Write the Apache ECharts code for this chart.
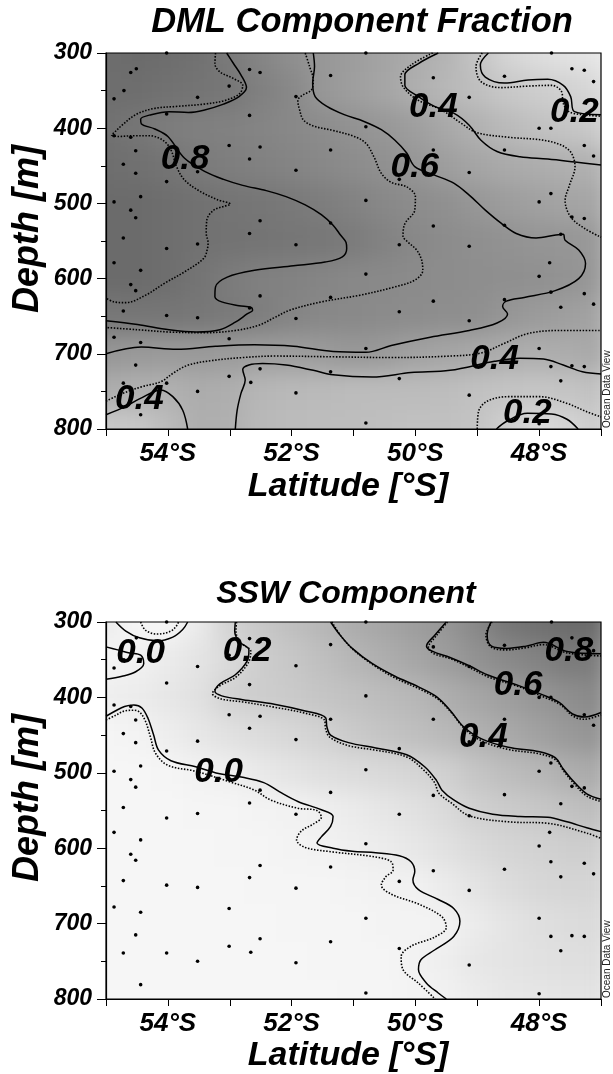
<!DOCTYPE html>
<html>
<head>
<meta charset="utf-8">
<title>DML and SSW component fractions</title>
<script src="https://cdn.jsdelivr.net/npm/echarts@6/dist/echarts.min.js"></script>
<style>
  html, body { margin: 0; padding: 0; background: #ffffff; }
  #stage { position: relative; width: 613px; height: 1074px; overflow: hidden; }
  .clip { position: absolute; overflow: hidden; }
  .field { position: absolute; width: 613px; height: 1074px; filter: blur(11px); }
  #chart { position: absolute; left: 0; top: 0; width: 613px; height: 1074px; }
</style>
</head>
<body>
<div id="stage"><div id="chart"></div></div>
<script>
// ---- gridded section values (rows: depth nodes, columns: latitude nodes, °S) ----
const latNodes = [55, 54.5, 54, 53.5, 53, 52.5, 52, 51.5, 51, 50.5, 50, 49.5, 49, 48.5, 48, 47.5, 47];
const depthNodes = [300, 350, 400, 450, 500, 550, 600, 650, 700, 750, 800];

const dmlField = [
  [0.88, 0.90, 0.89, 0.86, 0.80, 0.72, 0.65, 0.59, 0.55, 0.50, 0.44, 0.38, 0.28, 0.17, 0.12, 0.09, 0.07],
  [0.88, 0.88, 0.86, 0.84, 0.82, 0.76, 0.70, 0.59, 0.54, 0.49, 0.42, 0.36, 0.31, 0.25, 0.22, 0.19, 0.15],
  [0.86, 0.83, 0.78, 0.76, 0.75, 0.73, 0.70, 0.67, 0.63, 0.59, 0.54, 0.47, 0.40, 0.34, 0.30, 0.27, 0.23],
  [0.88, 0.87, 0.84, 0.80, 0.77, 0.75, 0.73, 0.70, 0.67, 0.64, 0.60, 0.54, 0.49, 0.45, 0.43, 0.41, 0.40],
  [0.90, 0.90, 0.88, 0.86, 0.84, 0.83, 0.81, 0.78, 0.74, 0.70, 0.67, 0.64, 0.59, 0.55, 0.52, 0.50, 0.48],
  [0.90, 0.90, 0.88, 0.86, 0.85, 0.84, 0.83, 0.82, 0.79, 0.74, 0.70, 0.67, 0.65, 0.63, 0.61, 0.60, 0.57],
  [0.90, 0.90, 0.88, 0.84, 0.79, 0.76, 0.74, 0.72, 0.70, 0.69, 0.68, 0.67, 0.66, 0.65, 0.64, 0.62, 0.58],
  [0.82, 0.83, 0.83, 0.82, 0.80, 0.77, 0.73, 0.70, 0.69, 0.68, 0.67, 0.66, 0.65, 0.60, 0.56, 0.53, 0.50],
  [0.60, 0.58, 0.57, 0.57, 0.56, 0.55, 0.55, 0.56, 0.59, 0.57, 0.52, 0.49, 0.46, 0.43, 0.42, 0.44, 0.47],
  [0.43, 0.41, 0.40, 0.44, 0.42, 0.37, 0.35, 0.34, 0.33, 0.33, 0.33, 0.32, 0.30, 0.28, 0.27, 0.28, 0.30],
  [0.24, 0.25, 0.33, 0.42, 0.41, 0.35, 0.33, 0.32, 0.32, 0.31, 0.30, 0.30, 0.28, 0.20, 0.13, 0.17, 0.24]
];

const sswField = [
  [0.03, -0.04, -0.04, 0.04, 0.18, 0.25, 0.31, 0.37, 0.44, 0.49, 0.55, 0.60, 0.70, 0.83, 0.87, 0.90, 0.90],
  [-0.03, 0.00, 0.04, 0.08, 0.14, 0.22, 0.26, 0.31, 0.37, 0.42, 0.48, 0.55, 0.63, 0.69, 0.74, 0.80, 0.78],
  [0.02, 0.03, 0.06, 0.10, 0.19, 0.22, 0.24, 0.27, 0.30, 0.33, 0.36, 0.42, 0.48, 0.54, 0.60, 0.66, 0.70],
  [-0.03, -0.02, 0.02, 0.06, 0.10, 0.13, 0.16, 0.19, 0.24, 0.28, 0.31, 0.35, 0.40, 0.46, 0.52, 0.58, 0.62],
  [-0.04, -0.04, -0.03, -0.01, 0.01, 0.05, 0.08, 0.11, 0.13, 0.15, 0.17, 0.20, 0.27, 0.32, 0.36, 0.42, 0.46],
  [-0.04, -0.04, -0.04, -0.03, -0.03, -0.02, -0.01, 0.01, 0.04, 0.07, 0.10, 0.14, 0.20, 0.23, 0.26, 0.30, 0.33],
  [-0.04, -0.04, -0.04, -0.04, -0.03, -0.03, -0.02, -0.01, 0.01, 0.03, 0.06, 0.10, 0.14, 0.17, 0.19, 0.21, 0.21],
  [-0.04, -0.04, -0.04, -0.04, -0.04, -0.03, -0.03, -0.03, -0.02, -0.01, 0.00, 0.04, 0.09, 0.13, 0.16, 0.17, 0.17],
  [-0.04, -0.04, -0.04, -0.04, -0.04, -0.04, -0.03, -0.03, -0.03, -0.02, -0.02, -0.01, 0.04, 0.08, 0.11, 0.13, 0.14],
  [-0.04, -0.04, -0.04, -0.04, -0.04, -0.04, -0.04, -0.03, -0.03, -0.03, -0.01, 0.02, 0.06, 0.08, 0.10, 0.11, 0.12],
  [-0.04, -0.04, -0.04, -0.04, -0.04, -0.04, -0.04, -0.04, -0.03, -0.03, -0.02, 0.00, 0.03, 0.06, 0.07, 0.08, 0.09]
];

// ---- sample positions [°S, m] ----
const stations = [
  [54.02, 300], [54.60, 326], [54.51, 321], [54.71, 350], [54.87, 361], [53.52, 359], [52.68, 322], [52.51, 326],
  [53.01, 344], [51.93, 358], [51.37, 330], [50.80, 300], [54.02, 381], [52.68, 383], [50.80, 398], [49.71, 333],
  [49.13, 359], [48.56, 331], [47.47, 321], [47.27, 323], [47.12, 338], [47.80, 300], [48.00, 400], [47.81, 400],
  [47.27, 423], [47.12, 437], [48.56, 429], [49.71, 429], [49.13, 459], [51.37, 429], [52.51, 425], [53.01, 423],
  [52.68, 441], [51.93, 456], [54.52, 430], [54.72, 448], [54.52, 460], [54.02, 471], [54.44, 491], [54.87, 498],
  [54.60, 509], [54.52, 519], [52.51, 523], [51.37, 526], [50.80, 496], [49.71, 530], [48.56, 529], [48.00, 498],
  [47.81, 487], [47.47, 518], [47.27, 520], [54.87, 410], [54.60, 412], [53.52, 458], [50.26, 468],
  [54.72, 546], [54.02, 560], [53.52, 554], [52.68, 540], [51.93, 555], [54.87, 579], [54.44, 589], [54.60, 608],
  [54.52, 616], [50.80, 594], [50.26, 555], [49.13, 557], [47.83, 579], [48.00, 597], [52.51, 623], [51.37, 625],
  [49.71, 630], [48.56, 628], [47.27, 620], [47.12, 634], [47.65, 638], [54.72, 643], [54.02, 649], [53.52, 652],
  [52.68, 639], [51.93, 653], [50.26, 644], [49.13, 656], [54.87, 678], [54.44, 685], [53.01, 680], [50.80, 693],
  [48.00, 693], [47.81, 717], [47.47, 716], [47.27, 717], [54.52, 715], [53.01, 730], [52.51, 720], [51.37, 724],
  [50.26, 733], [47.65, 736], [54.72, 739], [54.02, 739], [53.52, 750], [52.66, 738], [51.93, 752], [49.13, 755],
  [54.44, 781], [50.80, 792], [48.00, 793], [47.65, 541], [47.81, 618]
];

// ---- DML component fraction: isolines [°S, m] ----
const dmlSolid = [
  [[53.05, 300], [52.94, 314], [52.82, 329], [52.73, 346], [52.85, 358], [53.10, 368], [53.42, 376], [53.67, 379],
   [53.98, 378], [54.27, 382], [54.44, 388], [54.43, 394], [54.21, 401], [54.00, 411], [53.73, 440], [53.39, 458],
   [53.10, 468], [52.79, 476], [52.41, 483], [52.09, 491], [51.78, 502], [51.52, 515], [51.33, 529], [51.21, 542],
   [51.12, 552], [51.11, 560], [51.18, 571], [51.46, 578], [51.97, 583], [52.60, 589], [53.04, 598], [53.23, 611],
   [53.24, 624], [53.13, 631], [52.85, 636], [52.66, 638], [52.63, 642], [52.72, 647], [52.91, 658], [53.16, 668],
   [53.54, 671], [53.98, 668], [54.49, 661], [55.00, 656]],
  [[51.65, 300], [51.63, 318], [51.66, 340], [51.62, 358], [51.43, 371], [51.15, 382], [50.83, 391], [50.55, 402],
   [50.33, 416], [50.14, 433], [50.01, 451], [49.70, 462], [49.38, 473], [49.13, 489], [48.87, 509], [48.62, 526],
   [48.37, 540], [48.05, 546], [47.73, 542], [47.61, 541], [47.58, 549], [47.36, 562], [47.25, 580], [47.36, 600],
   [47.74, 616], [48.24, 625], [48.53, 630], [48.59, 637], [48.51, 647], [48.68, 659], [49.13, 669], [49.76, 678],
   [50.39, 689], [50.80, 698], [51.33, 697], [51.97, 690], [52.60, 688], [53.23, 690], [53.86, 694], [54.43, 691],
   [55.00, 700]],
  [[49.63, 300], [49.95, 314], [50.17, 329], [50.17, 343], [49.95, 358], [49.69, 371], [49.38, 380], [49.13, 396],
   [48.94, 416], [48.68, 431], [48.31, 438], [47.86, 441], [47.42, 445], [47.00, 449]],
  [[52.91, 800], [52.88, 775], [52.82, 753], [52.75, 735], [52.79, 721], [52.69, 715], [52.47, 713], [52.09, 715],
   [51.65, 722], [51.33, 728], [50.70, 731], [50.07, 725], [49.44, 722], [48.72, 710], [48.31, 706], [47.93, 707],
   [47.61, 715], [47.30, 724], [47.00, 727]],
  [[55.00, 781], [54.68, 770], [54.46, 760], [54.11, 748], [53.92, 757], [53.76, 775], [53.68, 800]],
  [[48.69, 800], [48.53, 790], [48.19, 779], [47.80, 780], [47.55, 787], [47.37, 800]],
  [[48.82, 300], [48.95, 316], [48.87, 332], [48.56, 340], [48.18, 336], [47.86, 335], [47.61, 343], [47.49, 358],
   [47.43, 378], [47.00, 382]]
];

const dmlDotted = [
  [[53.23, 300], [53.24, 314], [53.16, 325], [52.94, 334], [52.79, 343], [52.84, 354], [53.07, 363], [53.42, 368],
   [53.86, 371], [54.24, 374], [54.52, 382], [54.74, 396], [54.87, 406], [54.91, 409], [54.80, 411], [54.55, 410],
   [54.30, 410], [54.08, 416], [53.95, 429], [53.86, 451], [53.73, 469], [53.48, 484], [53.20, 495], [52.99, 501],
   [53.10, 504], [53.26, 509], [53.37, 522], [53.38, 540], [53.35, 552], [53.36, 560], [53.42, 573], [53.73, 591],
   [54.05, 606], [54.36, 622], [54.68, 632], [54.87, 631], [55.00, 626]],
  [[51.78, 300], [51.71, 318], [51.65, 336], [51.68, 349], [51.84, 357], [51.90, 363], [51.87, 376], [51.81, 389],
   [51.65, 397], [51.33, 403], [50.99, 411], [50.80, 420], [50.67, 438], [50.55, 460], [50.39, 472], [50.14, 478],
   [50.00, 491], [50.01, 509], [50.17, 527], [50.20, 544], [50.14, 550], [49.98, 562], [49.90, 575], [49.88, 589],
   [50.01, 602], [50.33, 611], [50.89, 622], [51.52, 631], [52.03, 642], [52.28, 652], [52.53, 662], [52.91, 669],
   [53.42, 672], [53.98, 671], [54.49, 668], [55.00, 665]],
  [[49.72, 300], [50.07, 316], [50.24, 332], [50.19, 346], [49.95, 363], [49.57, 376], [49.25, 394], [49.00, 406],
   [48.50, 412], [47.86, 417], [47.52, 429], [47.42, 451], [47.51, 476], [47.58, 496], [47.49, 518], [47.27, 533],
   [47.00, 545]],
  [[55.00, 763], [54.74, 753], [54.43, 744], [54.11, 737], [53.92, 726], [53.67, 715], [53.29, 709], [52.79, 705],
   [52.28, 703], [51.33, 704], [50.39, 705], [49.44, 703], [48.94, 699], [48.56, 686], [48.18, 673], [47.67, 669],
   [47.00, 669]],
  [[49.00, 800], [48.98, 777], [48.84, 763], [48.50, 757], [47.99, 757], [47.55, 766], [47.23, 777], [47.00, 784]],
  [[48.92, 300], [49.02, 318], [48.94, 338], [48.62, 346], [48.18, 344], [47.80, 343], [47.64, 351], [47.61, 367],
   [47.52, 378], [47.30, 382], [47.00, 384]]
];

const dmlLabels = [
  [53.72, 441, '0.8'], [50.01, 452, '0.6'], [49.71, 372, '0.4'], [47.43, 379, '0.2'],
  [48.72, 708, '0.4'], [54.46, 761, '0.4'], [48.19, 779, '0.2']
];

// ---- SSW component: isolines [°S, m] ----
const sswSolid = [
  [[54.84, 300], [54.68, 312], [54.46, 321], [54.17, 325], [53.92, 320], [53.76, 310], [53.68, 300]],
  [[55.00, 333], [54.81, 337], [54.62, 341], [54.44, 344], [54.39, 355], [54.52, 366], [54.74, 372], [55.00, 376]],
  [[52.91, 300], [52.92, 312], [52.85, 326], [52.69, 337], [52.72, 352], [52.91, 370], [53.16, 382], [53.24, 392],
   [53.13, 398], [52.79, 403], [52.28, 409], [51.78, 418], [51.45, 427], [51.43, 439], [51.37, 450], [51.08, 460],
   [50.64, 467], [50.14, 476], [49.85, 492], [49.66, 510], [49.57, 523], [49.38, 536], [49.13, 547], [48.75, 555],
   [48.31, 558], [47.86, 559], [47.55, 565], [47.23, 573], [47.00, 578]],
  [[51.37, 300], [51.22, 317], [51.02, 335], [50.70, 355], [50.33, 372], [49.95, 386], [49.66, 399], [49.44, 417],
   [49.22, 439], [48.93, 455], [48.50, 466], [47.99, 472], [47.74, 480], [47.61, 495], [47.46, 510], [47.23, 528],
   [47.00, 535]],
  [[49.50, 300], [49.68, 317], [49.82, 332], [49.72, 339], [49.44, 347], [49.13, 358], [48.84, 370], [48.34, 384],
   [47.93, 397], [47.67, 407], [47.46, 422], [47.27, 426], [47.00, 420]],
  [[48.78, 300], [48.84, 317], [48.77, 332], [48.52, 335], [48.21, 332], [47.93, 327], [47.55, 339], [47.00, 342]],
  [[55.00, 425], [54.85, 418], [54.70, 412], [54.55, 410], [54.42, 414], [54.32, 428], [54.23, 450], [54.15, 470],
   [53.95, 484], [53.55, 492], [53.18, 501], [52.79, 506], [52.45, 513], [52.20, 525], [51.90, 538], [51.52, 549],
   [51.33, 558], [51.37, 571], [51.52, 585], [51.59, 593], [51.33, 600], [51.02, 604], [50.64, 606], [50.26, 610],
   [50.07, 618], [50.01, 631], [50.04, 642], [49.95, 655], [49.63, 668], [49.38, 680], [49.28, 697], [49.38, 717],
   [49.69, 735], [49.91, 748], [49.95, 761], [49.82, 779], [49.63, 792], [49.50, 800]]
];

const sswDotted = [
  [[54.44, 300], [54.36, 311], [54.17, 316], [53.95, 312], [53.85, 304], [53.83, 300]],
  [[52.89, 300], [52.90, 312], [52.83, 327], [52.66, 339], [52.70, 354], [52.90, 373], [53.17, 385], [53.28, 395],
   [53.14, 402], [52.79, 406], [52.28, 413], [51.78, 421], [51.47, 430], [51.45, 442], [51.38, 453], [51.08, 464],
   [50.64, 470], [50.14, 479], [49.87, 496], [49.69, 513], [49.62, 527], [49.42, 540], [49.13, 557], [48.50, 565],
   [47.86, 567], [47.23, 580], [47.00, 587]],
  [[51.35, 300], [51.20, 319], [51.00, 337], [50.68, 357], [50.31, 375], [49.93, 389], [49.64, 402], [49.42, 420],
   [49.20, 442], [48.92, 458], [48.50, 469], [47.99, 475], [47.73, 483], [47.60, 498], [47.45, 513], [47.23, 531],
   [47.00, 538]],
  [[49.48, 300], [49.66, 318], [49.79, 334], [49.70, 342], [49.42, 349], [49.11, 361], [48.82, 373], [48.32, 386],
   [47.91, 400], [47.65, 410], [47.45, 425], [47.27, 429], [47.00, 423]],
  [[48.76, 300], [48.86, 317], [48.78, 333], [48.52, 337], [48.21, 334], [47.93, 330], [47.55, 341], [47.00, 345]],
  [[55.00, 430], [54.85, 424], [54.70, 418], [54.55, 417], [54.45, 420], [54.36, 432], [54.28, 453], [54.20, 474],
   [54.00, 490], [53.55, 498], [53.00, 512], [52.60, 523], [52.34, 536], [51.90, 547], [51.59, 550], [51.52, 559],
   [51.65, 568], [51.84, 577], [51.92, 589], [51.78, 599], [51.33, 605], [50.70, 611], [50.39, 618], [50.36, 629],
   [50.48, 638], [50.55, 649], [50.39, 661], [49.95, 674], [49.57, 691], [49.50, 705], [49.69, 718], [50.07, 730],
   [50.23, 744], [50.20, 761], [49.95, 779], [49.68, 800]]
];

const sswLabels = [
  [54.44, 342, '0.0'], [52.72, 339, '0.2'], [47.52, 339, '0.8'], [48.34, 384, '0.6'],
  [48.90, 453, '0.4'], [53.18, 500, '0.0']
];

// ---- axes ----
const latTicks = [55, 54, 53, 52, 51, 50, 49, 48, 47];
const latLabelled = [54, 52, 50, 48];
const depthTicks = [300, 400, 500, 600, 700, 800];

// ---- layout & style ----
const FONT = '"Liberation Sans", Arial, Helvetica, sans-serif';
const plotLeft = 106, plotWidth = 495;
const panels = [
  { top: 53, height: 376, field: dmlField, solid: dmlSolid, dotted: dmlDotted, labels: dmlLabels },
  { top: 622, height: 377, field: sswField, solid: sswSolid, dotted: sswDotted, labels: sswLabels }
];
const latMin = Math.min(...latTicks), latMax = Math.max(...latTicks);
const depthMin = depthTicks[0], depthMax = depthTicks[depthTicks.length - 1];
const latStep = Math.abs(latNodes[1] - latNodes[0]);
const depthStep = depthNodes[1] - depthNodes[0];

// grey ramp for fraction values
const shadeStops = [[-0.05, 247], [0, 241], [0.1, 225], [0.2, 208], [0.4, 177], [0.6, 150], [0.8, 122], [1.0, 92]];
function shade(v) {
  let g = shadeStops[shadeStops.length - 1][1];
  if (v <= shadeStops[0][0]) g = shadeStops[0][1];
  for (let k = 0; k < shadeStops.length - 1; k++) {
    const [v0, g0] = shadeStops[k], [v1, g1] = shadeStops[k + 1];
    if (v >= v0 && v <= v1) { g = g0 + (g1 - g0) * (v - v0) / (v1 - v0); break; }
  }
  g = Math.round(g);
  return 'rgb(' + g + ',' + g + ',' + g + ')';
}

function gridBox(p) {
  return { left: plotLeft, top: p.top, width: plotWidth, height: p.height, containLabel: false, outerBoundsMode: 'none' };
}

// ---- shaded background: one blurred layer per panel, clipped to its plot area ----
function cellItem(params, api) {
  const lat = api.value(0), dep = api.value(1);
  const west = lat >= latMax ? lat + 1.5 : lat + latStep / 2;
  const east = lat <= latMin ? lat - 1.5 : lat - latStep / 2;
  const upper = dep <= depthMin ? dep - 150 : dep - depthStep / 2;
  const lower = dep >= depthMax ? dep + 150 : dep + depthStep / 2;
  const a = api.coord([west, upper]);
  const b = api.coord([east, lower]);
  return {
    type: 'rect',
    shape: { x: Math.min(a[0], b[0]) - 0.5, y: Math.min(a[1], b[1]) - 0.5,
             width: Math.abs(b[0] - a[0]) + 1, height: Math.abs(b[1] - a[1]) + 1 },
    style: { fill: shade(api.value(2)) }
  };
}

const stage = document.getElementById('stage');
panels.forEach(p => {
  const clip = document.createElement('div');
  clip.className = 'clip';
  clip.style.left = plotLeft + 'px';
  clip.style.top = p.top + 'px';
  clip.style.width = plotWidth + 'px';
  clip.style.height = p.height + 'px';
  const layer = document.createElement('div');
  layer.className = 'field';
  layer.style.left = (-plotLeft) + 'px';
  layer.style.top = (-p.top) + 'px';
  clip.appendChild(layer);
  stage.insertBefore(clip, document.getElementById('chart'));

  const cells = [];
  depthNodes.forEach((d, r) => latNodes.forEach((lat, c) => cells.push([lat, d, p.field[r][c]])));

  const fieldChart = echarts.init(layer, null, { renderer: 'canvas', width: 613, height: 1074 });
  fieldChart.setOption({
    animation: false,
    grid: gridBox(p),
    xAxis: { type: 'value', min: latMin, max: latMax, inverse: true, show: false },
    yAxis: { type: 'value', min: depthMin, max: depthMax, inverse: true, show: false },
    series: [{ type: 'custom', renderItem: cellItem, data: cells, clip: false, silent: true }]
  });
});

// ---- foreground: axes, isolines, samples, labels, texts ----
const boldItalic = { color: '#000', fontFamily: FONT, fontWeight: 'bold', fontStyle: 'italic' };
const series = [];
panels.forEach((p, i) => {
  p.solid.forEach(line => series.push({
    type: 'line', xAxisIndex: i, yAxisIndex: i, data: line, symbol: 'none', smooth: 0.35,
    lineStyle: { color: '#000', width: 1.5, type: 'solid', opacity: 1 }, silent: true, z: 3
  }));
  p.dotted.forEach(line => series.push({
    type: 'line', xAxisIndex: i, yAxisIndex: i, data: line, symbol: 'none', smooth: 0.35,
    lineStyle: { color: '#000', width: 1.6, type: [1.5, 1.6], opacity: 1 }, silent: true, z: 3
  }));
  series.push({
    type: 'scatter', xAxisIndex: i, yAxisIndex: i, data: stations, symbolSize: 3.6,
    itemStyle: { color: '#000', opacity: 1 }, silent: true, z: 4
  });
  series.push({
    type: 'scatter', xAxisIndex: i, yAxisIndex: i, symbolSize: 1, silent: true, z: 5,
    itemStyle: { color: 'rgba(0,0,0,0)', opacity: 1 },
    data: p.labels.map(([lat, d, t]) => ({ value: [lat, d], name: t })),
    label: { show: true, position: 'inside', formatter: '{b}', fontSize: 35, opacity: 1, ...boldItalic }
  });
});

function textEl(text, x, y, size, rotation, align) {
  return {
    type: 'text', x: x, y: y, rotation: rotation || 0, silent: true, z: 10,
    style: {
      text: text, fill: '#000', font: 'italic bold ' + size + 'px ' + FONT,
      align: align || 'center', textAlign: align || 'center',
      verticalAlign: 'middle', textVerticalAlign: 'middle'
    }
  };
}
function odvMark(yBottom) {
  return {
    type: 'text', x: 607, y: yBottom, rotation: Math.PI / 2, silent: true, z: 10,
    style: { text: 'Ocean Data View', fill: '#222', font: '10px ' + FONT,
             align: 'left', textAlign: 'left', verticalAlign: 'middle', textVerticalAlign: 'middle' }
  };
}

const chart = echarts.init(document.getElementById('chart'), null, { renderer: 'canvas', width: 613, height: 1074 });
chart.setOption({
  animation: false,
  backgroundColor: 'transparent',
  grid: panels.map(p => Object.assign(gridBox(p), { show: true, borderColor: '#000', borderWidth: 1.2, backgroundColor: 'transparent' })),
  xAxis: panels.map((p, i) => ({
    type: 'value', gridIndex: i, min: latMin, max: latMax, interval: 1, inverse: true,
    axisLine: { show: true, onZero: false, lineStyle: { color: '#000', width: 1.2 } },
    axisTick: { show: true, inside: false, length: 7, lineStyle: { color: '#000', width: 1 } },
    axisLabel: { show: true, margin: 12, fontSize: 26, ...boldItalic,
                 formatter: v => latLabelled.indexOf(Math.round(v)) >= 0 ? Math.round(v) + '°S' : '' },
    splitLine: { show: false }
  })),
  yAxis: panels.map((p, i) => ({
    type: 'value', gridIndex: i, min: depthMin, max: depthMax, interval: depthTicks[1] - depthTicks[0], inverse: true,
    axisLine: { show: true, onZero: false, lineStyle: { color: '#000', width: 1.2 } },
    axisTick: { show: true, inside: false, length: 9, lineStyle: { color: '#000', width: 1 } },
    minorTick: { show: true, splitNumber: 2, length: 5, lineStyle: { color: '#000', width: 1 } },
    axisLabel: { show: true, margin: 14, fontSize: 23, ...boldItalic },
    splitLine: { show: false }
  })),
  series: series,
  graphic: [
    textEl('DML Component Fraction', 362, 22, 34.5),
    textEl('SSW Component', 346, 594, 32),
    textEl('Latitude [°S]', 348, 487, 34),
    textEl('Latitude [°S]', 348, 1056, 34),
    textEl('Depth [m]', 28, 229, 36, Math.PI / 2),
    textEl('Depth [m]', 28, 798, 36, Math.PI / 2),
    odvMark(428),
    odvMark(998)
  ]
});
</script>
</body>
</html>
